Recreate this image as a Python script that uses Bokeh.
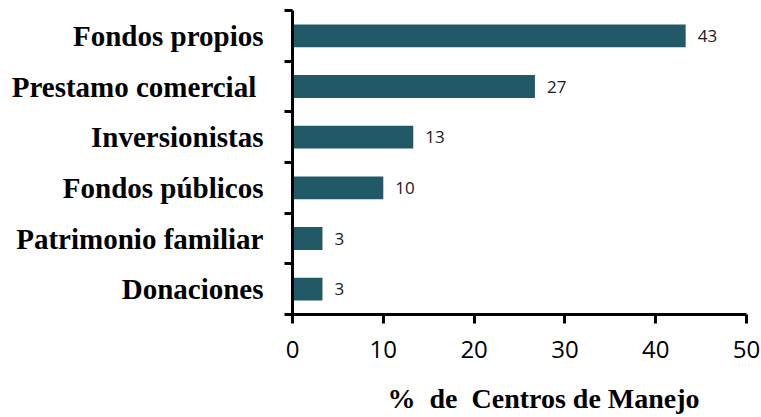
from bokeh.plotting import figure
from bokeh.models import (Range1d, FixedTicker, ColumnDataSource, Title, LinearAxis,
                          CustomJSTickFormatter)
from bokeh.embed import file_html
from bokeh.resources import INLINE
from bokeh.core.properties import value

categories = ["Fondos propios", "Prestamo comercial ", "Inversionistas",
              "Fondos públicos", "Patrimonio familiar", "Donaciones"]
percentages = [43.3, 26.7, 13.3, 10.0, 3.3, 3.3]
x_ticks = [0, 10, 20, 30, 40, 50]
x_title = "%\u00a0\u00a0de\u00a0\u00a0Centros de Manejo"

n = len(categories)
pos = [i + 0.5 for i in range(n)]
src = ColumnDataSource(dict(
    y=pos, v=percentages, lab=[f"{v:.0f}" for v in percentages]))

p = figure(width=761, height=417, output_backend="svg", toolbar_location=None,
           x_range=Range1d(0, 50), y_range=Range1d(n, 0),
           min_border_left=292, min_border_right=15, min_border_top=10,
           min_border_bottom=0)
p.outline_line_color = None
p.grid.visible = False

p.hbar(y="y", right="v", left=0, height=0.45, source=src,
       fill_color="#215a66", line_color=None)
p.text(x="v", y="y", text="lab", source=src, x_offset=12,
       text_align="left", text_baseline="middle",
       text_font=value("Open Sans"), text_font_size="17px", text_color="#1a1a1a")

# y axis
ya = p.yaxis[0]
ya.ticker = FixedTicker(ticks=pos, minor_ticks=list(range(n + 1)))
ya.major_label_overrides = {pv: c for pv, c in zip(pos, categories)}
ya.major_tick_out = 0
ya.major_tick_in = 0
ya.minor_tick_out = 8
ya.minor_tick_in = 0
ya.minor_tick_line_width = 3
ya.minor_tick_line_color = "black"
ya.axis_line_width = 3
ya.axis_line_color = "black"
ya.major_label_standoff = 21
ya.major_label_text_font = "Liberation Serif"
ya.major_label_text_font_style = "bold"
ya.major_label_text_font_size = "29px"
ya.major_label_text_color = "black"

# x axis
xa = p.xaxis[0]
xa.ticker = FixedTicker(ticks=x_ticks, minor_ticks=[])
xa.major_tick_out = 9
xa.major_tick_in = 0
xa.major_tick_line_width = 3
xa.axis_line_width = 3
xa.axis_line_color = "black"
xa.major_label_standoff = 17
xa.major_label_text_font = "Open Sans"
xa.major_label_text_font_size = "24px"
xa.major_label_text_color = "black"

# invisible spacer between tick labels and the title
spacer = LinearAxis(ticker=FixedTicker(ticks=[x_ticks[0]], minor_ticks=[]),
                    formatter=CustomJSTickFormatter(code="return ''"),
                    axis_line_color=None, major_tick_line_color=None,
                    minor_tick_line_color=None, major_tick_out=16,
                    major_tick_in=0, major_label_standoff=0,
                    major_label_text_font_size="1px")
p.add_layout(spacer, "below")

title = Title(text=x_title, align="left", offset=95, standoff=8,
              text_font="Liberation Serif", text_font_style="bold",
              text_font_size="28px", text_color="black")
p.add_layout(title, "below")

open("out.html", "w").write(file_html(p, INLINE))
